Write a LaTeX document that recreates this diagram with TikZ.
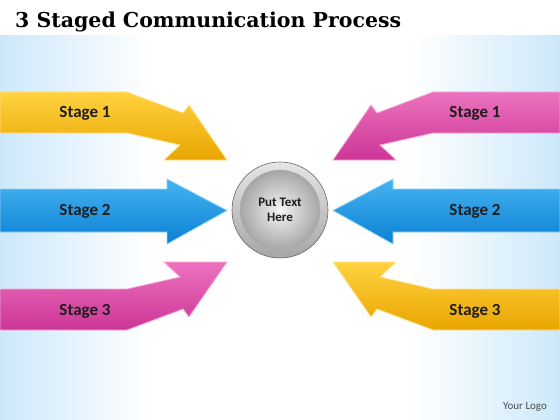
\documentclass[tikz,border=0pt]{standalone}
\usepackage{fontspec}
\setmainfont{Carlito}
\newfontfamily\titlefont{DejaVu Serif}
\definecolor{bgblue}{HTML}{CDE8FB}
\definecolor{yelA}{HTML}{FFD23F}
\definecolor{yelB}{HTML}{E9A500}
\definecolor{bluA}{HTML}{45B4F2}
\definecolor{bluB}{HTML}{0B7FD3}
\definecolor{pnkA}{HTML}{EC72BE}
\definecolor{pnkB}{HTML}{CC3597}
\definecolor{txt}{HTML}{1E1E1E}
\def\lbl{node[font=\bfseries\fontsize{17}{17}\selectfont, text=txt]}
% left side arrow outlines, in pixels of the 560x420 frame
\def\bentdown{(0,92) -- (127,92) -- (183,113) -- (189,105) -- (227,160) -- (164,160) -- (180,145) -- (127,133) -- (0,133) -- cycle}
\def\straight{(0,189) -- (167,189) -- (167,179) -- (227,210.5) -- (167,244) -- (167,232) -- (0,232) -- cycle}
\def\bentup{(0,330) -- (127,330) -- (183,309) -- (189,317) -- (227,262) -- (164,262) -- (180,277) -- (127,289) -- (0,289) -- cycle}

\begin{document}
\begin{tikzpicture}[x=1pt,y=-1pt]
  \useasboundingbox (0,0) rectangle (560,420);
  \fill[white] (0,0) rectangle (560,420);
  \shade[left color=bgblue, right color=white] (0,36) rectangle (150,420);
  \shade[left color=white, right color=bgblue] (410,36) rectangle (560,420);

  \node[anchor=base west, inner sep=0, font=\titlefont\bfseries\fontsize{20.5}{20.5}\selectfont] (title) at (15,28) {3 Staged Communication Process};

  % arrows, right side is the mirror image with colours 1 and 3 swapped
  \foreach \s/\ca/\cc in {0/yel/pnk, 1/pnk/yel}{
    \begin{scope}[xshift=560*\s, xscale=1-2*\s]
      \shade[top color=\ca A, bottom color=\ca B, draw=\ca A!60!white, line width=0.8] \bentdown;
      \shade[top color=bluA, bottom color=bluB, draw=bluA!60!white, line width=0.8] \straight;
      \shade[top color=\cc A, bottom color=\cc B, draw=\cc A!60!white, line width=0.8] \bentup;
    \end{scope}
  }

  \foreach \y [count=\i] in {113,211,311}{
    \path (85,\y) \lbl (l\i) {Stage \i};
    \path (475,\y) \lbl (r\i) {Stage \i};
  }

  % hub
  \shade[top color=gray!20, bottom color=gray!70, draw=gray!80!black, line width=0.6] (280,210) circle (48);
  \node[circle, minimum size=80, inner color=white!92!gray, outer color=gray!70, draw=gray!60,
        align=center, font=\bfseries\fontsize{13}{15}\selectfont, text=txt] (hub) at (280,210) {Put Text\\Here};

  \node[font=\fontsize{11}{11}\selectfont, text=txt!80] (logo) at (525,407) {Your Logo};
\end{tikzpicture}
\end{document}
